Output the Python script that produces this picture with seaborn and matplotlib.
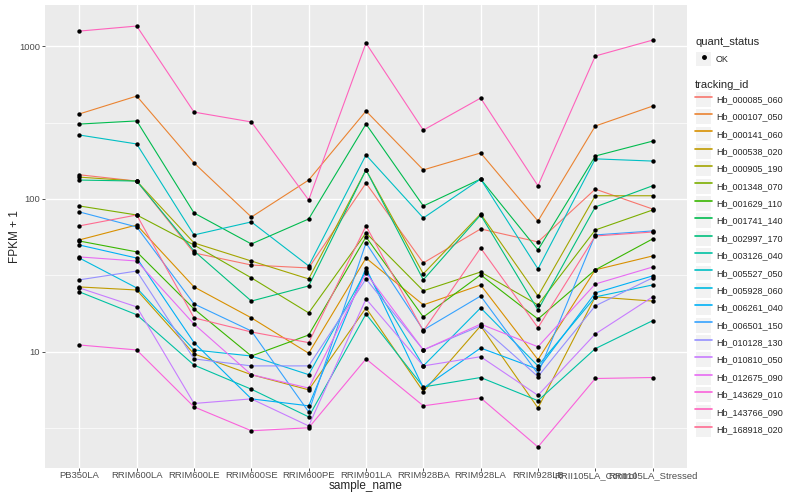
import matplotlib
matplotlib.use("Agg")
import pandas as pd
import matplotlib.pyplot as plt
from matplotlib.lines import Line2D
from matplotlib.patches import Rectangle
from matplotlib.legend_handler import HandlerLine2D
from matplotlib.ticker import FixedLocator, NullFormatter
import seaborn as sns

samples = ["PB350LA", "RRIM600LA", "RRIM600LE", "RRIM600SE", "RRIM600PE",
           "RRIM901LA", "RRIM928BA", "RRIM928LA", "RRIM928LB",
           "RRII105LA_Control", "RRII105LA_Stressed"]

tracking_ids = ["Hb_000085_060", "Hb_000107_050", "Hb_000141_060", "Hb_000538_020",
                "Hb_000905_190", "Hb_001348_070", "Hb_001629_110", "Hb_001741_140",
                "Hb_002997_170", "Hb_003126_040", "Hb_005527_050", "Hb_005928_060",
                "Hb_006261_040", "Hb_006501_150", "Hb_010128_130", "Hb_010810_050",
                "Hb_012675_090", "Hb_143629_010", "Hb_143766_090", "Hb_168918_020"]

# FPKM + 1 per sample
hb_000085_060 = [144, 131, 44.4, 37, 35.4, 127, 38.2, 63.7, 52.4, 116, 86]
hb_000107_050 = [360, 471, 172, 76.2, 133, 376, 155, 200, 71.8, 300, 405]
hb_000141_060 = [54, 67.6, 26.6, 16.7, 9.8, 41.1, 20.3, 27.4, 8.9, 34.4, 42.4]
hb_000538_020 = [26.6, 25.4, 9.7, 7.1, 5.65, 19.4, 5.5, 14.8, 4.3, 22.9, 21.5]
hb_000905_190 = [139, 131, 51.6, 39.3, 30, 155, 32.4, 79.8, 23.2, 105, 105]
hb_001348_070 = [90, 78.6, 50, 30.5, 18, 60, 25.1, 33.3, 20.3, 62.7, 84.7]
hb_001629_110 = [53.1, 45.1, 19.1, 9.4, 12.9, 56.5, 16.9, 31.9, 16.4, 34.4, 54.8]
hb_001741_140 = [309, 324, 81, 50.8, 74, 309, 90, 135, 46.4, 191, 239]
hb_002997_170 = [133, 131, 45.7, 21.5, 27, 155, 29.6, 78.6, 18.8, 88.7, 122]
hb_003126_040 = [24.7, 17.5, 8.2, 5.7, 3.76, 17.7, 5.9, 6.8, 4.8, 10.5, 16]
hb_005527_050 = [262, 229, 58.2, 70.8, 36.5, 194, 75.1, 135, 34.9, 183, 177]
hb_005928_060 = [41.1, 26.2, 10.3, 9.4, 7.1, 33.8, 8.1, 19.4, 8.1, 22.9, 27.4]
hb_006261_040 = [50, 41.1, 11.5, 4.93, 4.44, 35.4, 5.8, 10.6, 7.7, 24.3, 31.4]
hb_006501_150 = [82.3, 65.6, 20.6, 13.7, 4.05, 51.6, 13.9, 23.2, 7.2, 58.2, 61.8]
hb_010128_130 = [29.6, 33.8, 9.0, 8.1, 8.1, 30, 10.3, 14.8, 6.9, 20, 30.5]
hb_010810_050 = [26.2, 19.7, 4.6, 4.93, 3.28, 22.2, 8.1, 9.3, 5.2, 13.1, 22.9]
hb_012675_090 = [41.8, 39.3, 15.2, 7.1, 5.8, 32.8, 10.3, 15.2, 10.8, 27.8, 35.9]
hb_143629_010 = [11.1, 10.3, 4.37, 3.05, 3.19, 9.0, 4.44, 5.0, 2.39, 6.7, 6.8]
hb_143766_090 = [1253, 1352, 370, 319, 98.5, 1046, 282, 457, 122, 861, 1094]
hb_168918_020 = [66.7, 78.6, 16.7, 13.5, 11.5, 66.7, 13.7, 47.8, 14.4, 57.3, 60.8]

series = [hb_000085_060, hb_000107_050, hb_000141_060, hb_000538_020, hb_000905_190,
          hb_001348_070, hb_001629_110, hb_001741_140, hb_002997_170, hb_003126_040,
          hb_005527_050, hb_005928_060, hb_006261_040, hb_006501_150, hb_010128_130,
          hb_010810_050, hb_012675_090, hb_143629_010, hb_143766_090, hb_168918_020]

# ggplot2 default hue palette for 20 levels
hue_colors = ["#F8766D", "#EA8331", "#D89000", "#C09B00", "#A3A500", "#7CAE00",
              "#39B600", "#00BB4E", "#00BF7D", "#00C1A3", "#00BFC4", "#00BAE0",
              "#00B0F6", "#35A2FF", "#9590FF", "#C77CFF", "#E76BF3", "#FA62DB",
              "#FF62BC", "#FF6C91"]
palette = dict(zip(tracking_ids, hue_colors))

df = pd.concat(
    [pd.DataFrame({"sample_name": samples, "tracking_id": tid, "fpkm1": vals})
     for tid, vals in zip(tracking_ids, series)],
    ignore_index=True,
)

sns.set_theme(style="darkgrid", rc={
    "axes.facecolor": "#EBEBEB",
    "grid.color": "white",
    "xtick.bottom": True,
    "ytick.left": True,
})
plt.rcParams["font.family"] = ["Liberation Sans", "DejaVu Sans"]


class KeyBoxHandler(HandlerLine2D):
    # ggplot-like legend key: grey box behind the glyph
    def create_artists(self, legend, orig_handle, xdescent, ydescent,
                       width, height, fontsize, trans):
        box = Rectangle((-xdescent + 0.5, -ydescent + 0.5), width - 1, height - 1,
                        facecolor="#F2F2F2", edgecolor="none", transform=trans)
        arts = super().create_artists(legend, orig_handle, xdescent, ydescent,
                                      width, height, fontsize, trans)
        return [box] + list(arts)


fig = plt.figure(figsize=(8, 5), dpi=100)
ax = fig.add_axes([0.05625, 0.064, 0.8025, 0.926])

sns.lineplot(data=df, x="sample_name", y="fpkm1", hue="tracking_id",
             palette=palette, sort=False, estimator=None, linewidth=0.8,
             legend=False, ax=ax)
sns.scatterplot(data=df, x="sample_name", y="fpkm1", color="black", s=10,
                linewidth=0, zorder=3, legend=False, ax=ax)

ax.set_yscale("log")
lo, hi = df["fpkm1"].min(), df["fpkm1"].max()
span = (hi / lo) ** 0.05
ax.set_ylim(lo / span, hi * span)
ax.set_xlim(-0.6, len(samples) - 0.4)

ax.yaxis.set_major_locator(FixedLocator([10, 100, 1000]))
ax.set_yticklabels(["10", "100", "1000"])
ax.yaxis.set_minor_locator(FixedLocator([10 ** 0.5, 10 ** 1.5, 10 ** 2.5]))
ax.yaxis.set_minor_formatter(NullFormatter())

ax.grid(which="major", color="white", linewidth=1.0)
ax.grid(which="minor", axis="y", color="white", linewidth=0.5)
ax.tick_params(axis="both", which="major", length=2.5, width=0.6, color="#333333",
               labelsize=6.8, labelcolor="#4D4D4D", pad=1)
ax.tick_params(axis="x", which="major", pad=0)
ax.tick_params(axis="both", which="minor", length=0)
for sp in ax.spines.values():
    sp.set_visible(False)

ax.set_xlabel("sample_name", fontsize=8.5, labelpad=0)
ax.set_ylabel("FPKM + 1", fontsize=8.5)
ax.yaxis.set_label_coords(-24 / 642, 0.5)

status_handle = Line2D([], [], color="black", marker="o", linestyle="none", markersize=2.5)
fig.legend(handles=[status_handle], labels=["OK"], title="quant_status",
           loc="upper left", bbox_to_anchor=(695 / 800, 1 - 37 / 500),
           frameon=False, fontsize=6.5, title_fontsize=8, alignment="left",
           handlelength=1.9, handleheight=2.2, handletextpad=0.4,
           borderpad=0, borderaxespad=0,
           handler_map={Line2D: KeyBoxHandler(numpoints=1)})

id_handles = [Line2D([], [], color=c, linewidth=1.2) for c in hue_colors]
fig.legend(handles=id_handles, labels=tracking_ids, title="tracking_id",
           loc="upper left", bbox_to_anchor=(695 / 800, 1 - 80 / 500),
           frameon=False, fontsize=6.5, title_fontsize=8, alignment="left",
           handlelength=1.9, handleheight=2.4, labelspacing=0.12,
           handletextpad=0.4, borderpad=0, borderaxespad=0,
           handler_map={Line2D: KeyBoxHandler()})

fig.savefig("out.png", dpi=100)
